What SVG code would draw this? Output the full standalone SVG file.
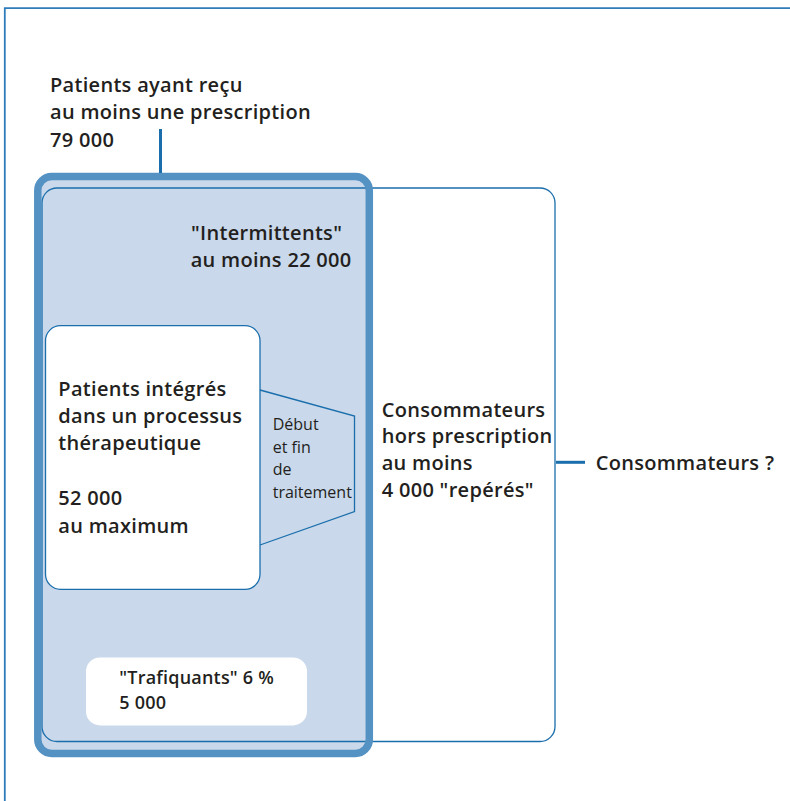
<svg xmlns="http://www.w3.org/2000/svg" width="790" height="801" viewBox="0 0 790 801">
<style>
.t{font-family:"Open Sans","Noto Sans","Liberation Sans",sans-serif;font-weight:600;font-size:20px;letter-spacing:0.3px;fill:#231f20}
.tm{font-family:"Open Sans","Noto Sans","Liberation Sans",sans-serif;font-weight:600;font-size:18px;letter-spacing:0.2px;fill:#231f20}
.s{font-family:"Open Sans","Noto Sans","Liberation Sans",sans-serif;font-weight:400;font-size:16px;fill:#231f20}
.thin{fill:none;stroke:#1a6eac;stroke-width:1.3}
.conn{stroke:#1a6eac;stroke-width:3;fill:none}
</style>
<rect width="790" height="801" fill="#ffffff"/>
<g id="frame">
<path d="M4.8,801 V8.2 H790" fill="none" stroke="#2f7cbb" stroke-width="1.8"/>
</g>
<g id="prescrits-fill">
<rect x="37.8" y="176.5" width="331.5" height="577" rx="14" fill="#c9d8ea"/>
</g>
<g id="consommateurs-box">
<rect class="thin" x="42" y="188" width="513" height="553.5" rx="15"/>
</g>
<g id="prescrits">
<rect x="37.8" y="176.5" width="331.5" height="577" rx="14" fill="none" stroke="#5592c4" stroke-width="7.5"/>
</g>
<g id="connectors">
<line class="conn" x1="160.5" y1="129" x2="160.5" y2="173"/>
<line class="conn" x1="556" y1="462.3" x2="585" y2="462.3"/>
</g>
<g id="label-prescription">
<text class="t" x="50" y="91.7">Patients ayant reçu</text>
<text class="t" x="50" y="119">au moins une prescription</text>
<text class="t" x="50" y="146.7">79 000</text>
</g>
<g id="intermittents">
<text class="t" x="191" y="240">"Intermittents"</text>
<text class="t" x="190.7" y="266.7">au moins 22 000</text>
</g>
<g id="therapeutique">
<rect x="45.5" y="325.7" width="214.5" height="263.6" rx="15" fill="#ffffff" stroke="#1a6eac" stroke-width="1.3"/>
<text class="t" x="58.3" y="396">Patients intégrés</text>
<text class="t" x="58.3" y="423">dans un processus</text>
<text class="t" x="58.3" y="450">thérapeutique</text>
<text class="t" x="58.3" y="505">52 000</text>
<text class="t" x="58.3" y="532.7">au maximum</text>
</g>
<g id="debut-fin">
<polyline class="thin" points="260,390 354.5,416 354.5,511.5 260,545"/>
<text class="s" x="272.7" y="430">Début</text>
<text class="s" x="272.7" y="452.7">et fin</text>
<text class="s" x="272.7" y="475">de</text>
<text class="s" x="272.7" y="498.3">traitement</text>
</g>
<g id="hors-prescription">
<text class="t" x="381.7" y="416.7">Consommateurs</text>
<text class="t" x="381.7" y="443">hors prescription</text>
<text class="t" x="381.7" y="470">au moins</text>
<text class="t" x="381.7" y="497.3">4 000 "repérés"</text>
</g>
<g id="consommateurs-label">
<text class="t" x="595.7" y="470">Consommateurs ?</text>
</g>
<g id="trafiquants">
<rect x="86" y="657.4" width="221" height="68" rx="14" fill="#ffffff"/>
<text class="tm" x="119.3" y="684">"Trafiquants" 6 %</text>
<text class="tm" x="119.3" y="709.3">5 000</text>
</g>
</svg>
